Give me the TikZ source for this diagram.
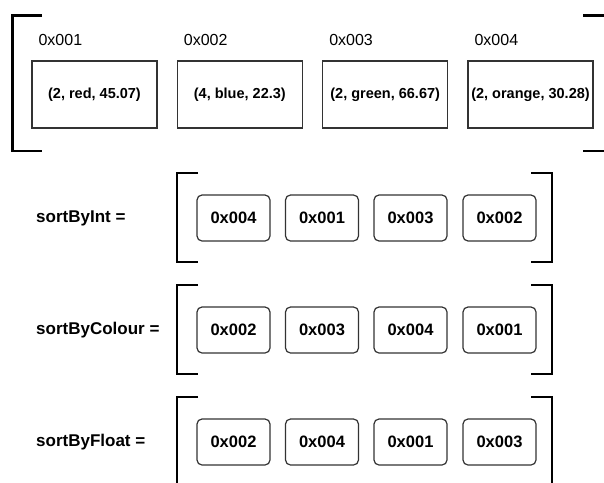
\documentclass[tikz,border=0pt]{standalone}
\usepackage{fontspec}
\setmainfont{Liberation Sans}
\usetikzlibrary{calc}

\begin{document}
\begin{tikzpicture}[x=1pt, y=-1pt,
  addr/.style={anchor=west, inner sep=0pt, font=\fontsize{16}{18}\selectfont},
  tuple/.style={draw=black!80, line width=1.2pt, minimum width=125pt, minimum height=67pt,
    inner sep=0pt, font=\bfseries\fontsize{14.5}{16}\selectfont},
  ptr/.style={draw=black!80, line width=1.2pt, rounded corners=5pt, minimum width=73pt,
    minimum height=46pt, inner sep=0pt, font=\bfseries\fontsize{16.5}{18}\selectfont},
  rowlabel/.style={anchor=west, inner sep=0pt, font=\bfseries\fontsize{17}{19}\selectfont},
  brk/.style={line width=2.6pt}]
  \useasboundingbox (0,0) rectangle (604,482);
  % tableau des structures
  \draw[brk] (42,15.5) -- (12.5,15.5) -- (12.5,151) -- (42,151);
  \draw[brk] (583,15.5) -- (606,15.5);
  \draw[brk] (583,151) -- (606,151);
  \foreach \i/\t/\a [count=\k from 0] in {1/{(2, red, 45.07)}/0x001, 2/{(4, blue, 22.3)}/0x002,
      3/{(2, green, 66.67)}/0x003, 4/{(2, orange, 30.28)}/0x004} {
    \node[tuple] (s\i) at (94.5+145.33*\k, 94.5) {\t};
    \node[addr] (a\i) at ($(s\i.west) + (7,-55)$) {\a};
  }
  % tableaux de pointeurs
  \foreach \r/\lab/\la/\lb/\lc/\ld [count=\n from 0] in {int/{sortByInt =}/0x004/0x001/0x003/0x002,
      col/{sortByColour =}/0x002/0x003/0x004/0x001,
      flt/{sortByFloat =}/0x002/0x004/0x001/0x003} {
    \coordinate (c\r) at (0, 218+112*\n);
    \node[rowlabel] (l\r) at ($(c\r) + (36,0)$) {\lab};
    \node[ptr] (\r1) at ($(c\r) + (233.5,0)$) {\la};
    \node[ptr] (\r2) at ($(c\r) + (322,0)$) {\lb};
    \node[ptr] (\r3) at ($(c\r) + (410.5,0)$) {\lc};
    \node[ptr] (\r4) at ($(c\r) + (499.5,0)$) {\ld};
    \draw[brk] ($(c\r) + (198,-45)$) -- ($(c\r) + (177,-45)$) -- ($(c\r) + (177,44)$) -- ($(c\r) + (198,44)$);
    \draw[brk] ($(c\r) + (531,-45)$) -- ($(c\r) + (552,-45)$) -- ($(c\r) + (552,44)$) -- ($(c\r) + (531,44)$);
  }
\end{tikzpicture}
\end{document}
